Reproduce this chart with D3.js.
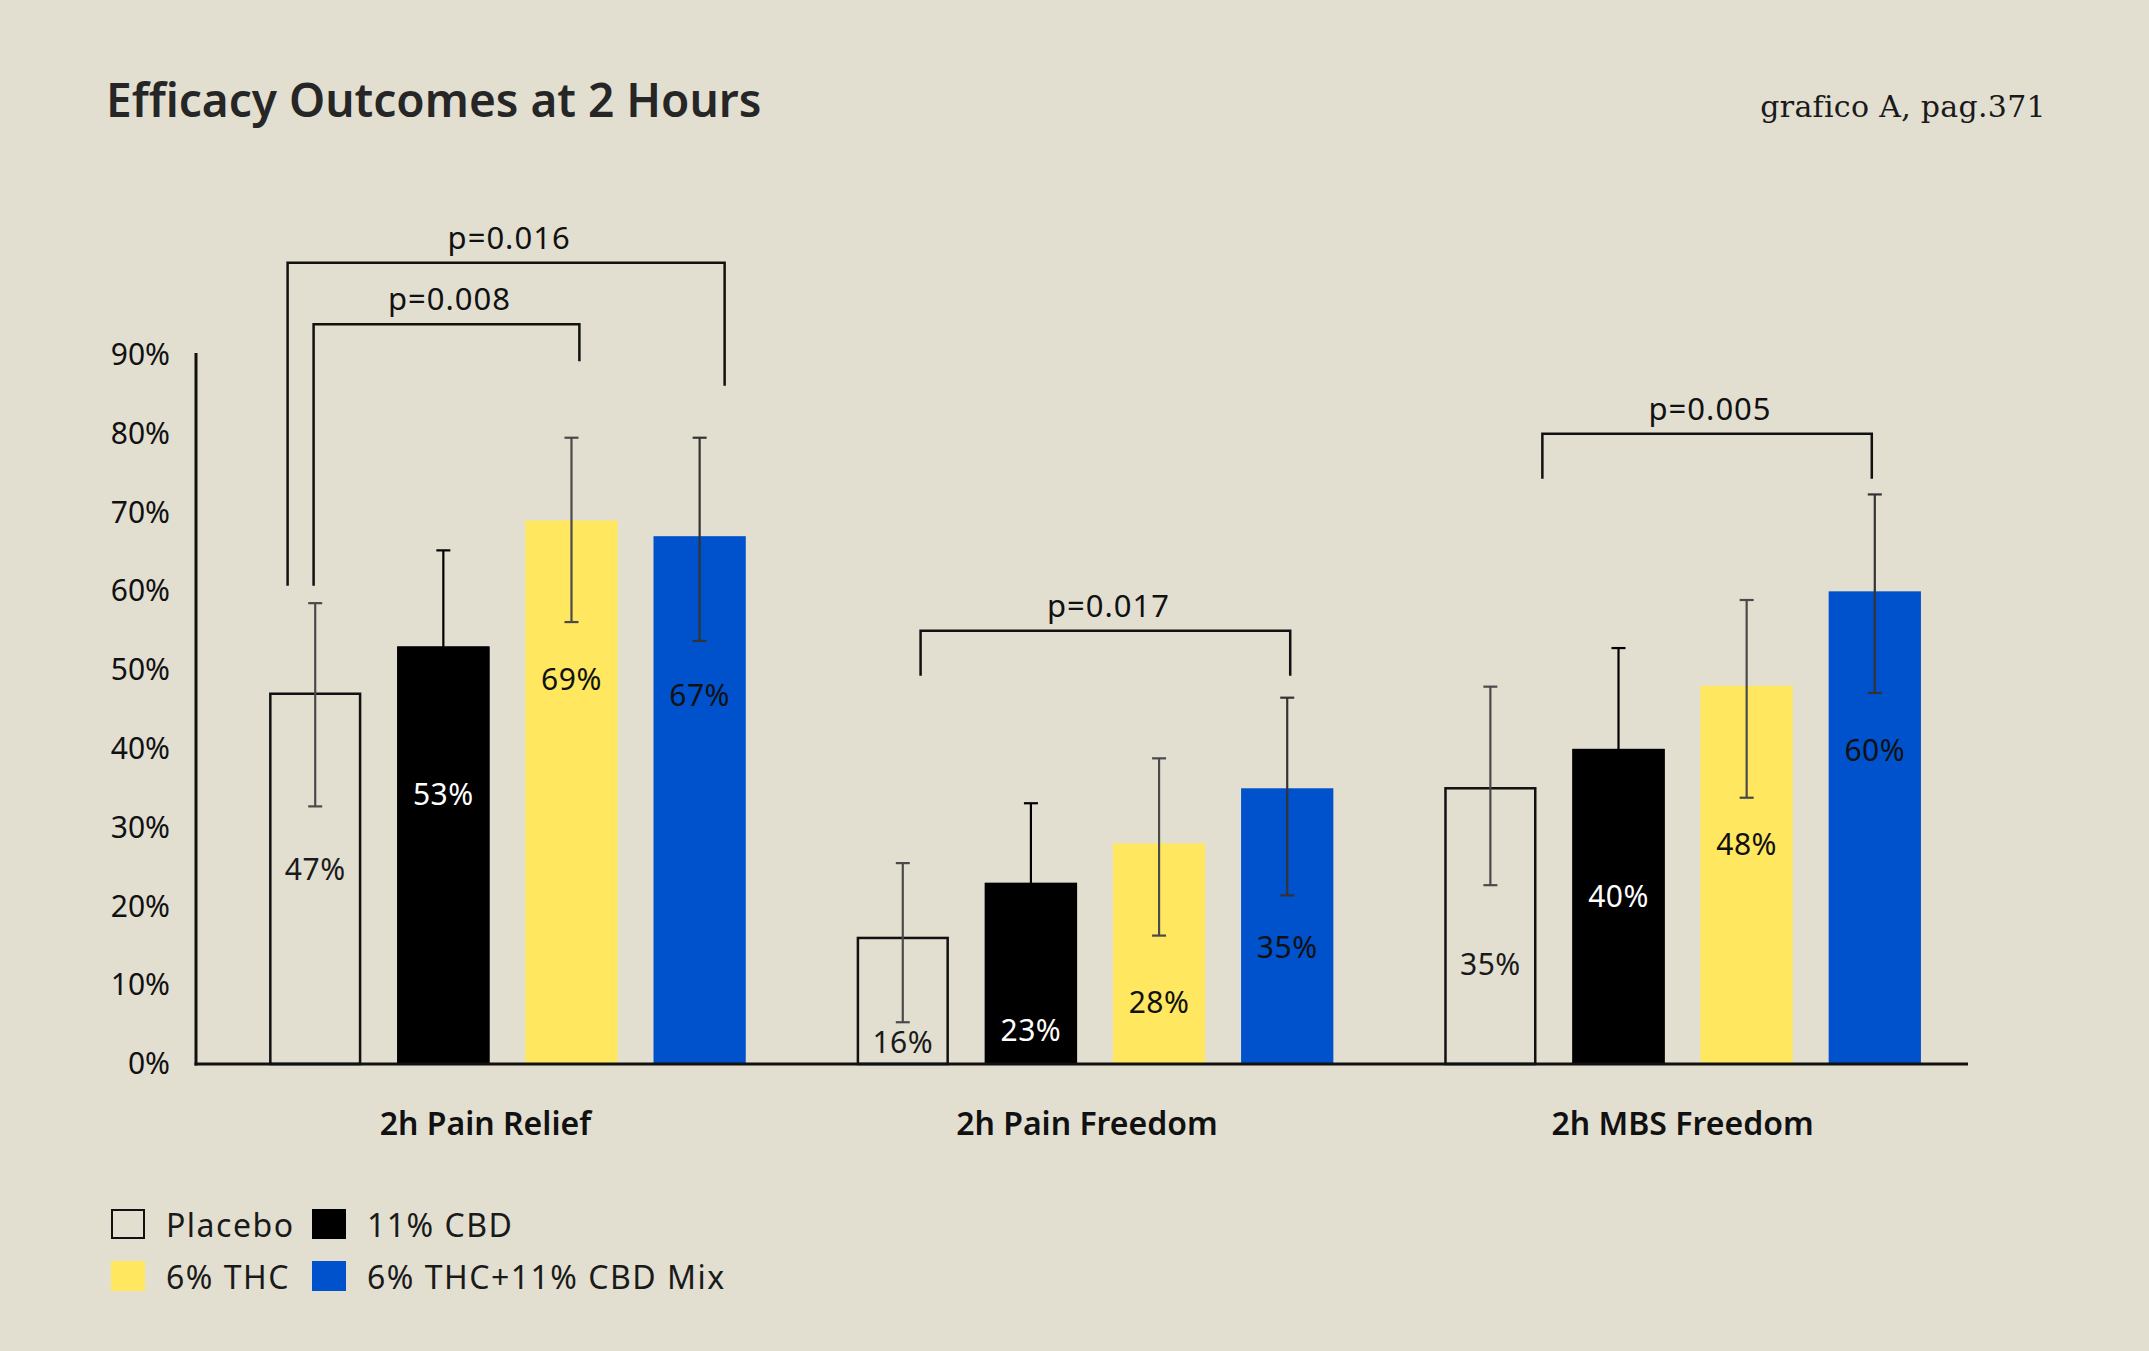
<!DOCTYPE html>
<html>
<head>
<meta charset="utf-8">
<script src="https://cdn.jsdelivr.net/npm/d3@7"></script>
<style>
  html, body { margin: 0; padding: 0; background: #e2dfd1; }
  svg { display: block; }
</style>
</head>
<body>
<div id="chart"></div>
<script>
// data (values in %)
var groups = ["2h Pain Relief", "2h Pain Freedom", "2h MBS Freedom"];
var seriesNames = ["Placebo", "11% CBD", "6% THC", "6% THC+11% CBD Mix"];

var placebo = [47, 16, 35];
var cbd = [53, 23, 40];
var thc = [69, 28, 48];
var mix = [67, 35, 60];

// error bar ends
var placeboHi = [58.5, 25.5, 47.9];
var placeboLo = [32.7, 5.3, 22.7];
var cbdHi = [65.2, 33.1, 52.8];
var cbdLo = [41, 13, 28];
var thcHi = [79.5, 38.8, 58.9];
var thcLo = [56.1, 16.3, 33.8];
var mixHi = [79.5, 46.5, 72.3];
var mixLo = [53.7, 21.4, 47.1];

var yTicks = [0, 10, 20, 30, 40, 50, 60, 70, 80, 90];

// significance comparisons: group, from series, to series, label
var pGroups = [0, 0, 1, 2];
var pFrom = [0, 0, 0, 0];
var pTo = [3, 2, 3, 3];
var pLabels = ["p=0.016", "p=0.008", "p=0.017", "p=0.005"];

var W = 2149, H = 1351;
var bg = "#e2dfd1";

// series styling
var styles = [
  { fill: "none", stroke: "#111", text: "#1a1a1a", err: "#4a4a4a", drop: 176 },
  { fill: "#000", stroke: "none", text: "#fff", err: "#000", drop: 148 },
  { fill: "#ffe760", stroke: "none", text: "#111", err: "#4a4a4a", drop: 159 },
  { fill: "#0051cc", stroke: "none", text: "#111", err: "#333", drop: 159 }
];

// bracket layout (levels in value units, leg ends, x nudges)
var bracketLayout = [
  { top: 101.7, leftEnd: 60.7, rightEnd: 86.1, dx0: -27.6, dx1: 25 },
  { top: 93.9, leftEnd: 60.7, rightEnd: 89.2, dx0: -1.6, dx1: 7.9 },
  { top: 55.0, leftEnd: 49.3, rightEnd: 49.3, dx0: 17.8, dx1: 3 },
  { top: 80.0, leftEnd: 74.3, rightEnd: 74.3, dx0: 52, dx1: -3 }
];
// group label nudges (px)
var catNudge = [-22, -8, 0];

var rows = groups.map(function(g, i) {
  return {
    group: g,
    values: [
      { s: 0, v: placebo[i], hi: placeboHi[i], lo: placeboLo[i] },
      { s: 1, v: cbd[i], hi: cbdHi[i], lo: cbdLo[i] },
      { s: 2, v: thc[i], hi: thcHi[i], lo: thcLo[i] },
      { s: 3, v: mix[i], hi: mixHi[i], lo: mixLo[i] }
    ]
  };
});

var svg = d3.select("#chart").append("svg")
  .attr("width", W)
  .attr("height", H)
  .style("background", bg);

var sans = "'Noto Sans', 'Open Sans', sans-serif";

// title + source note
svg.append("text")
  .attr("x", 106).attr("y", 117)
  .attr("font-family", sans)
  .attr("font-weight", 600)
  .attr("font-size", "46px")
  .attr("fill", "#262626")
  .text("Efficacy Outcomes at 2 Hours");

svg.append("text")
  .attr("x", 2046).attr("y", 117)
  .attr("text-anchor", "end")
  .attr("font-family", "'DejaVu Serif', 'Liberation Serif', serif")
  .attr("font-size", "30px")
  .attr("letter-spacing", "0.3px")
  .attr("fill", "#1a1a1a")
  .text("grafico A, pag.371");

var y = d3.scaleLinear().domain([0, 90]).range([1064, 355]);

var x0 = d3.scaleBand()
  .domain(groups)
  .range([196, 1994])
  .paddingInner(0.18)
  .paddingOuter(0.12);

var x1 = d3.scaleBand()
  .domain(d3.range(seriesNames.length))
  .range([0, x0.bandwidth()])
  .paddingInner(0.28)
  .paddingOuter(0.02);

// y axis
var yAxis = d3.axisLeft(y)
  .tickValues(yTicks)
  .tickSize(0)
  .tickPadding(26)
  .tickFormat(function(d) { return d + "%"; });

var yG = svg.append("g")
  .attr("transform", "translate(196,0)")
  .call(yAxis);
yG.select(".domain").remove();
yG.selectAll("text")
  .attr("font-family", sans)
  .attr("font-size", "30px")
  .attr("fill", "#111");

svg.append("line")
  .attr("x1", 196).attr("x2", 196)
  .attr("y1", 353).attr("y2", y(0) + 1.5)
  .attr("stroke", "#111").attr("stroke-width", 3);

// bars
var gGroups = svg.selectAll(".grp")
  .data(rows)
  .enter()
  .append("g")
  .attr("class", "grp")
  .attr("transform", function(d) { return "translate(" + x0(d.group) + ",0)"; });

gGroups.selectAll("rect")
  .data(function(d) { return d.values; })
  .enter()
  .append("rect")
  .attr("x", function(d) { return x1(d.s) + (d.s === 0 ? 1.25 : 0); })
  .attr("width", function(d) { return x1.bandwidth() - (d.s === 0 ? 2.5 : 0); })
  .attr("y", function(d) { return y(d.v); })
  .attr("height", function(d) { return y(0) - y(d.v); })
  .attr("fill", function(d) { return styles[d.s].fill; })
  .attr("stroke", function(d) { return styles[d.s].stroke; })
  .attr("stroke-width", 2.5);

// error bars
var eb = gGroups.selectAll(".eb")
  .data(function(d) { return d.values; })
  .enter()
  .append("g")
  .attr("class", "eb")
  .attr("stroke", function(d) { return styles[d.s].err; })
  .attr("stroke-width", 2.2);

eb.append("line")
  .attr("x1", function(d) { return x1(d.s) + x1.bandwidth() / 2; })
  .attr("x2", function(d) { return x1(d.s) + x1.bandwidth() / 2; })
  .attr("y1", function(d) { return y(d.hi); })
  .attr("y2", function(d) { return y(d.lo); });

eb.append("line")
  .attr("x1", function(d) { return x1(d.s) + x1.bandwidth() / 2 - 7; })
  .attr("x2", function(d) { return x1(d.s) + x1.bandwidth() / 2 + 7; })
  .attr("y1", function(d) { return y(d.hi); })
  .attr("y2", function(d) { return y(d.hi); });

eb.append("line")
  .attr("x1", function(d) { return x1(d.s) + x1.bandwidth() / 2 - 7; })
  .attr("x2", function(d) { return x1(d.s) + x1.bandwidth() / 2 + 7; })
  .attr("y1", function(d) { return y(d.lo); })
  .attr("y2", function(d) { return y(d.lo); });

// the CBD bar hides its error bar from below
gGroups.selectAll(".cover")
  .data(function(d) { return d.values.filter(function(v) { return v.s === 1; }); })
  .enter()
  .append("rect")
  .attr("x", function(d) { return x1(d.s); })
  .attr("width", x1.bandwidth())
  .attr("y", function(d) { return y(d.v); })
  .attr("height", function(d) { return y(0) - y(d.v); })
  .attr("fill", "#000");

// value labels
gGroups.selectAll(".val")
  .data(function(d) { return d.values; })
  .enter()
  .append("text")
  .attr("class", "val")
  .attr("x", function(d) { return x1(d.s) + x1.bandwidth() / 2; })
  .attr("y", function(d) { return Math.min(y(d.v) + styles[d.s].drop, y(0) - 22); })
  .attr("dy", "0.35em")
  .attr("text-anchor", "middle")
  .attr("font-family", sans)
  .attr("font-size", "30px")
  .attr("letter-spacing", "0.5px")
  .attr("fill", function(d) { return styles[d.s].text; })
  .text(function(d) { return d.v + "%"; });

// x baseline
svg.append("line")
  .attr("x1", 194.5).attr("x2", 1968)
  .attr("y1", y(0)).attr("y2", y(0))
  .attr("stroke", "#111").attr("stroke-width", 3);

// group labels
svg.selectAll(".cat")
  .data(groups)
  .enter()
  .append("text")
  .attr("class", "cat")
  .attr("x", function(d, i) { return x0(d) + x0.bandwidth() / 2 + catNudge[i]; })
  .attr("y", 1135)
  .attr("text-anchor", "middle")
  .attr("font-family", sans)
  .attr("font-weight", 600)
  .attr("font-size", "32px")
  .attr("fill", "#111")
  .text(function(d) { return d; });

// significance brackets
pLabels.forEach(function(lbl, i) {
  var L = bracketLayout[i];
  var g = groups[pGroups[i]];
  var xa = x0(g) + x1(pFrom[i]) + x1.bandwidth() / 2 + L.dx0;
  var xb = x0(g) + x1(pTo[i]) + x1.bandwidth() / 2 + L.dx1;
  var path = d3.path();
  path.moveTo(xa, y(L.leftEnd));
  path.lineTo(xa, y(L.top));
  path.lineTo(xb, y(L.top));
  path.lineTo(xb, y(L.rightEnd));
  svg.append("path")
    .attr("d", path.toString())
    .attr("fill", "none")
    .attr("stroke", "#111")
    .attr("stroke-width", 2.5);
  svg.append("text")
    .attr("x", (xa + xb) / 2 + 3)
    .attr("y", y(L.top) - 14)
    .attr("text-anchor", "middle")
    .attr("font-family", sans)
    .attr("font-size", "31px")
    .attr("letter-spacing", "1px")
    .attr("fill", "#111")
    .text(lbl);
});

// legend, 2 x 2
var legendX = [111, 312];
var legendY = [1209, 1261];
var leg = svg.selectAll(".leg")
  .data(seriesNames)
  .enter()
  .append("g")
  .attr("class", "leg")
  .attr("transform", function(d, i) {
    return "translate(" + legendX[i % 2] + "," + legendY[Math.floor(i / 2)] + ")";
  });

leg.append("rect")
  .attr("x", function(d, i) { return i === 0 ? 1 : 0; })
  .attr("y", function(d, i) { return i === 0 ? 1 : 0; })
  .attr("width", function(d, i) { return i === 0 ? 32 : 34; })
  .attr("height", function(d, i) { return i === 0 ? 28 : 30; })
  .attr("fill", function(d, i) { return styles[i].fill; })
  .attr("stroke", function(d, i) { return styles[i].stroke; })
  .attr("stroke-width", 2);

leg.append("text")
  .attr("x", 55)
  .attr("y", 28)
  .attr("font-family", sans)
  .attr("font-size", "32px")
  .attr("letter-spacing", "1.5px")
  .attr("fill", "#1a1a1a")
  .text(function(d) { return d; });
</script>
</body>
</html>
